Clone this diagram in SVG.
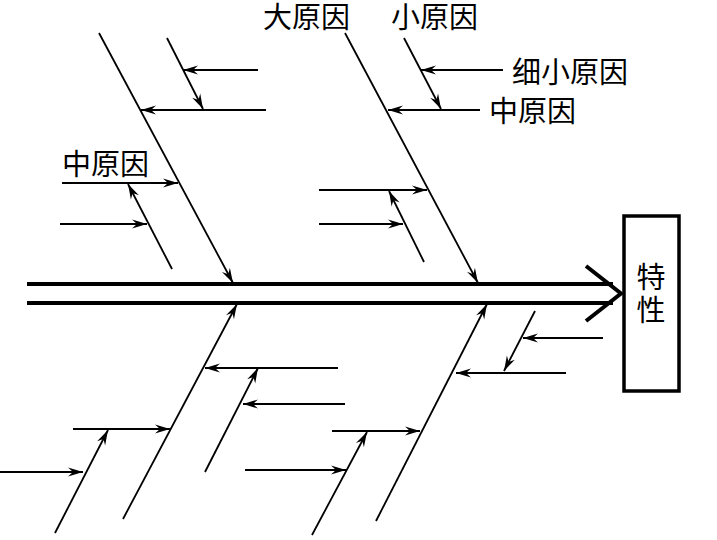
<svg xmlns="http://www.w3.org/2000/svg" width="717" height="540" viewBox="0 0 717 540">
<style>
.bone{stroke:#000;stroke-width:1.8;fill:none}
.spine{stroke:#000;stroke-width:4;fill:none}
.arr{marker-end:url(#ah)}
.lbl{font-family:"Noto Sans CJK SC","Noto Sans CJK JP",sans-serif;font-size:29px;fill:#000}
.vert{font-size:29px;writing-mode:vertical-rl;letter-spacing:4px}
</style>
<defs>
<marker id="ah" markerUnits="userSpaceOnUse" markerWidth="20" markerHeight="12" refX="16" refY="6" orient="auto" viewBox="0 0 20 12">
<path d="M16,6 L1,1.5 L6,6 L1,10.5 Z" fill="#000"/>
</marker>
</defs>
<rect width="717" height="540" fill="#fff"/>
<g id="spine">
<line class="spine" x1="27" y1="284" x2="613" y2="284"/>
<line class="spine" x1="27" y1="303" x2="613" y2="303"/>
<polyline class="spine" points="586,266 621,293.5 586,321"/>
</g>
<g id="effect">
<rect x="624" y="216" width="55" height="175" fill="none" stroke="#000" stroke-width="3.5"/>
<text class="lbl vert" x="651" y="262">特性</text>
</g>
<g id="labels">
<text class="lbl" x="263" y="28">大原因</text>
<text class="lbl" x="391" y="28">小原因</text>
<text class="lbl" x="512" y="83">细小原因</text>
<text class="lbl" x="489" y="122">中原因</text>
<text class="lbl" x="62" y="175">中原因</text>
</g>
<g id="connectors">
<!-- upper left major bone -->
<line class="bone arr" x1="99" y1="33" x2="233" y2="283"/>
<line class="bone arr" x1="167" y1="38" x2="203" y2="109"/>
<line class="bone arr" x1="258" y1="70" x2="183" y2="70"/>
<line class="bone arr" x1="266" y1="110" x2="141" y2="110"/>
<line class="bone arr" x1="62" y1="183" x2="178" y2="183"/>
<line class="bone arr" x1="172" y1="269" x2="128" y2="184"/>
<line class="bone arr" x1="60" y1="224" x2="147" y2="224"/>
<!-- upper right major bone -->
<line class="bone arr" x1="345" y1="33" x2="478" y2="283"/>
<line class="bone arr" x1="404" y1="38" x2="441" y2="109"/>
<line class="bone arr" x1="503" y1="70" x2="421" y2="70"/>
<line class="bone arr" x1="480" y1="110" x2="388" y2="110"/>
<line class="bone arr" x1="319" y1="190" x2="427" y2="190"/>
<line class="bone arr" x1="424" y1="262" x2="389" y2="191"/>
<line class="bone arr" x1="319" y1="224" x2="403" y2="224"/>
<!-- lower left major bone -->
<line class="bone arr" x1="123" y1="519" x2="237" y2="304"/>
<line class="bone arr" x1="338" y1="368" x2="205" y2="368"/>
<line class="bone arr" x1="205" y1="472" x2="258" y2="368"/>
<line class="bone arr" x1="345" y1="404" x2="243" y2="404"/>
<line class="bone arr" x1="73" y1="429" x2="170" y2="429"/>
<line class="bone arr" x1="55" y1="533" x2="108" y2="430"/>
<line class="bone arr" x1="0" y1="472" x2="83" y2="472"/>
<!-- lower right major bone -->
<line class="bone arr" x1="376" y1="521" x2="487" y2="304"/>
<line class="bone arr" x1="332" y1="431" x2="420" y2="431"/>
<line class="bone arr" x1="312" y1="535" x2="367" y2="432"/>
<line class="bone arr" x1="245" y1="470" x2="346" y2="470"/>
<line class="bone arr" x1="535" y1="311" x2="504" y2="371"/>
<line class="bone arr" x1="603" y1="338" x2="523" y2="338"/>
<line class="bone arr" x1="566" y1="373" x2="456" y2="373"/>
</g>
</svg>
